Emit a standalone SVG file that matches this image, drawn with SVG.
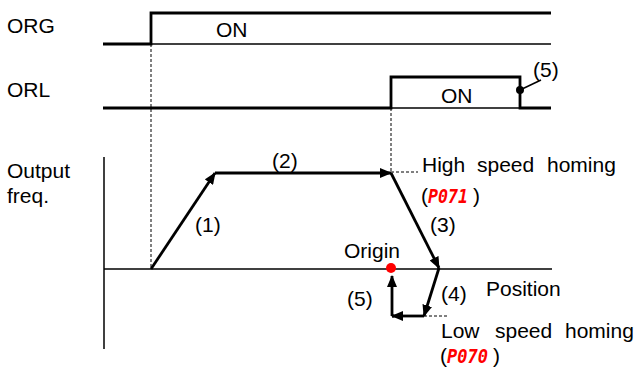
<svg xmlns="http://www.w3.org/2000/svg" width="637" height="371" viewBox="0 0 637 371">
<style>
text{font-family:"Liberation Sans",Arial,sans-serif;font-size:21px;fill:#000}
text.red{fill:#ff0000;font-weight:bold;font-style:italic;font-family:"DejaVu Sans Mono","Liberation Mono",monospace;font-size:19px}
.thick{stroke:#000;stroke-width:2.8;fill:none}
.thin{stroke:#000;stroke-width:1.5;fill:none}
.dash{stroke:#000;stroke-width:1;stroke-dasharray:3,2;fill:none}
.arr{stroke:#000;stroke-width:2.8;fill:none;marker-end:url(#ah)}
</style>
<defs>
<marker id="ah" viewBox="0 0 12 10" refX="11" refY="5" markerWidth="12" markerHeight="10" markerUnits="userSpaceOnUse" orient="auto">
<path d="M0,0 L12,5 L0,10 Z" fill="#000"/>
</marker>
</defs>
<g id="org">
<path class="thick" d="M103,44 H151 V13 H551"/>
<path class="thin" d="M151,44 H551"/>
<text x="7" y="33">ORG</text>
<text x="216" y="37">ON</text>
</g>
<g id="orl">
<path class="thick" d="M103,108 H391 V77 H520 V108 H551"/>
<path class="thin" d="M391,108 H520"/>
<text x="7" y="97">ORL</text>
<text x="441" y="103">ON</text>
<circle cx="520" cy="90" r="4" fill="#000"/>
<path class="thin" d="M520,90 L541,80" stroke-width="2"/>
<text x="533" y="77">(5)</text>
</g>
<g id="axes">
<path class="thin" d="M104,157 V349"/>
<path class="thin" d="M104,269 H552"/>
<text x="7" y="178">Output</text>
<text x="7" y="203">freq.</text>
<text x="486" y="296">Position</text>
</g>
<g id="connectors">
<path class="dash" d="M151,44 V268"/>
<path class="dash" d="M391,108 V172"/>
<path class="dash" d="M391,172 H418"/>
<path class="dash" d="M424,316 H449"/>
<path class="arr" d="M151,269 L215,173"/>
<path class="thick" d="M215,173 H300"/>
<path class="arr" d="M300,173 H391"/>
<path class="arr" d="M391,173 L439,268"/>
<path class="arr" d="M439,268 L424,316"/>
<path class="arr" d="M424,316 H392"/>
<path class="thick" d="M392,316 H394"/>
<path class="arr" d="M392,316 V276"/>
</g>
<g id="labels">
<text x="195" y="232">(1)</text>
<text x="272" y="168">(2)</text>
<text x="430" y="232">(3)</text>
<text x="441" y="301">(4)</text>
<text x="347" y="306">(5)</text>
</g>
<g id="origin">
<circle cx="391" cy="268" r="5" fill="#ff0000"/>
<text x="344" y="258">Origin</text>
</g>
<g id="high">
<text y="172"><tspan x="422">High</tspan><tspan x="477">speed</tspan><tspan x="547">homing</tspan></text>
<text x="421" y="203">(</text>
<text class="red" x="428" y="203" textLength="40" lengthAdjust="spacingAndGlyphs">P071</text>
<text x="473" y="203">)</text>
</g>
<g id="low">
<text y="338"><tspan x="441">Low</tspan><tspan x="495">speed</tspan><tspan x="565">homing</tspan></text>
<text x="440" y="363">(</text>
<text class="red" x="447" y="363" textLength="41" lengthAdjust="spacingAndGlyphs">P070</text>
<text x="493" y="363">)</text>
</g>
</svg>
